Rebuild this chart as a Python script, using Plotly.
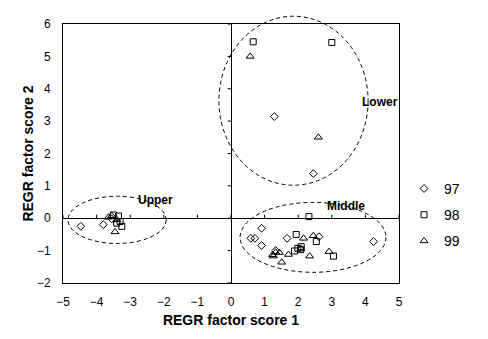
import plotly.graph_objects as go

# Factor scores by year (REGR factor score 1, REGR factor score 2)
x97 = [-4.47, -3.80, -3.55, 1.29, 2.45, 0.59, 0.71, 0.91, 0.91, 1.67, 2.62, 4.24, 1.33]
y97 = [-0.25, -0.20, -0.02, 3.14, 1.38, -0.62, -0.62, -0.31, -0.84, -0.62, -0.57, -0.72, -1.00]

x98 = [-3.50, -3.35, -3.30, -3.25, -3.40, 0.66, 3.00, 2.32, 1.94, 2.54, 1.89, 1.99, 2.09, 2.07, 3.05]
y98 = [0.10, 0.07, -0.10, -0.25, -0.15, 5.45, 5.43, 0.05, -0.50, -0.72, -1.01, -0.93, -0.88, -0.97, -1.17]

x99 = [-3.65, -3.55, -3.45, -3.40, 0.57, 2.60, 2.16, 2.45, 1.24, 1.33, 1.44, 1.51, 1.71, 2.08, 2.34, 2.92, 1.26]
y99 = [0.03, 0.08, -0.42, -0.05, 5.00, 2.50, -0.62, -0.54, -1.13, -1.05, -1.06, -1.36, -1.12, -0.95, -1.17, -1.03, -1.17]

years = ["97", "98", "99"]
symbols = ["diamond-open", "square-open", "triangle-up-open"]
sizes = [6, 6, 7]

# Cluster outlines: name, centre x, centre y, radius x, radius y, label position
groups = ["Upper", "Middle", "Lower"]
cx = [-3.39, 2.44, 1.86]
cy = [-0.05, -0.59, 3.63]
rx = [1.46, 2.17, 2.22]
ry = [0.73, 1.08, 2.61]
lab_x = [-2.25, 3.43, 4.42]
lab_y = [0.55, 0.37, 3.58]

x_ticks = list(range(-5, 6))
y_ticks = list(range(-2, 7))
x_range = [-5, 5]
y_range = [-2, 6]

font = "Liberation Sans, Arial, sans-serif"

fig = go.Figure()
for xs, ys, name, sym, sz in zip([x97, x98, x99], [y97, y98, y99], years, symbols, sizes):
    fig.add_trace(go.Scatter(
        x=xs, y=ys, mode="markers", name=name, legendgroup=name,
        marker=dict(symbol=sym, size=sz, color="black", line=dict(color="black", width=1)),
        cliponaxis=False,
    ))

def to_paper(v):
    return (v - y_range[0]) / (y_range[1] - y_range[0])

shapes = []
for c_x, c_y, r_x, r_y in zip(cx, cy, rx, ry):
    shapes.append(dict(
        type="circle", xref="x", yref="paper",
        x0=c_x - r_x, x1=c_x + r_x, y0=to_paper(c_y - r_y), y1=to_paper(c_y + r_y),
        line=dict(color="black", width=1, dash="4px,3px"), layer="below",
    ))

# small tick marks along the zero axes
for t in y_ticks:
    shapes.append(dict(type="line", xref="x", yref="y", x0=-0.1, x1=0, y0=t, y1=t,
                       line=dict(color="black", width=1)))
for t in x_ticks:
    shapes.append(dict(type="line", xref="x", yref="y", x0=t, x1=t, y0=0, y1=0.11,
                       line=dict(color="black", width=1)))

annotations = [
    dict(x=lx, y=ly, xref="x", yref="y", text="<b>%s</b>" % g, showarrow=False,
         font=dict(family=font, size=12, color="black"))
    for g, lx, ly in zip(groups, lab_x, lab_y)
]

fig.update_layout(
    width=488, height=339,
    margin=dict(l=63, r=89, t=24, b=56, autoexpand=False),
    paper_bgcolor="white", plot_bgcolor="white",
    font=dict(family=font, color="black"),
    shapes=shapes, annotations=annotations,
    showlegend=True,
    legend=dict(x=1.015, xanchor="left", y=0.425, yanchor="top",
                font=dict(family=font, size=14, color="black"),
                tracegroupgap=5, itemwidth=30,
                bgcolor="rgba(0,0,0,0)"),
    xaxis=dict(range=x_range, tickvals=x_ticks, showgrid=False,
               zeroline=True, zerolinecolor="black", zerolinewidth=1,
               showline=True, linecolor="black", linewidth=1, mirror=True,
               ticks="outside", ticklen=8, tickcolor="rgba(0,0,0,0)",
               tickfont=dict(size=12, family=font),
               title=dict(text="<b>REGR factor score 1</b>", font=dict(size=14, family=font),
                          standoff=6)),
    yaxis=dict(range=y_range, tickvals=y_ticks, showgrid=False,
               zeroline=True, zerolinecolor="black", zerolinewidth=1,
               showline=True, linecolor="black", linewidth=1, mirror=True,
               ticks="outside", ticklen=9, tickcolor="rgba(0,0,0,0)",
               tickfont=dict(size=12, family=font),
               title=dict(text="<b>REGR factor score 2</b>", font=dict(size=14, family=font),
                          standoff=0)),
)

fig.write_html("out.html")
